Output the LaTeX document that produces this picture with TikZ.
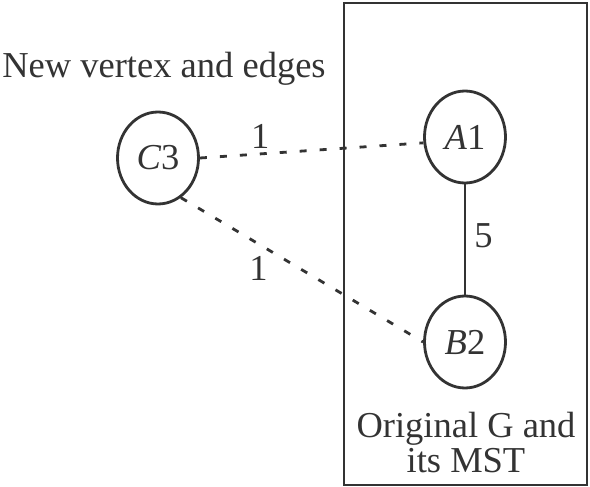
\documentclass[tikz,border=0pt]{standalone}
\usepackage{fontspec}
\setmainfont{Liberation Serif}
\usetikzlibrary{shapes.geometric}
\definecolor{inkColor}{RGB}{51,51,51}

\begin{document}
\begin{tikzpicture}[x=1pt, y=-1pt, line width=2.8pt, inkColor,
    vertex/.style={draw, ellipse, minimum width=81pt, minimum height=92pt, inner sep=0pt, text=inkColor},
    newedge/.style={dash pattern=on 7pt off 13pt},
    weight/.style={inner sep=0pt, text=inkColor},
    every node/.append style={font=\fontsize{36.5}{42}\selectfont}]

    \useasboundingbox (0,0) rectangle (590,487);

    % 1. CAJA DEL GRAFO ORIGINAL
    \draw (344,3) rectangle (587,485);
    \node[text=inkColor, align=center] (mstlabel) at (466,443) {Original G and\\[-7pt]its MST};

    % 2. VERTICES
    \node[vertex] (A1) at (465,137) {\textit{A}1};
    \node[vertex] (B2) at (465,342) {\textit{B}2};
    \node[vertex] (C3) at (158,158) {\textit{C}3};
    \node[text=inkColor] (newlabel) at (164,69) {New vertex and edges};

    % 3. ARISTAS
    % Arista del MST
    \draw (A1) -- node[weight, right=8pt, pos=0.47] (w5) {5} (B2);
    % Aristas nuevas (punteadas)
    \draw[newedge] (C3.east) -- node[weight, pos=0.27, above=4pt] (w1a) {1} (A1.188);
    \draw[newedge] (C3.-60) -- node[weight, pos=0.32, below=11pt] (w1b) {1} (B2.west);

\end{tikzpicture}
\end{document}
